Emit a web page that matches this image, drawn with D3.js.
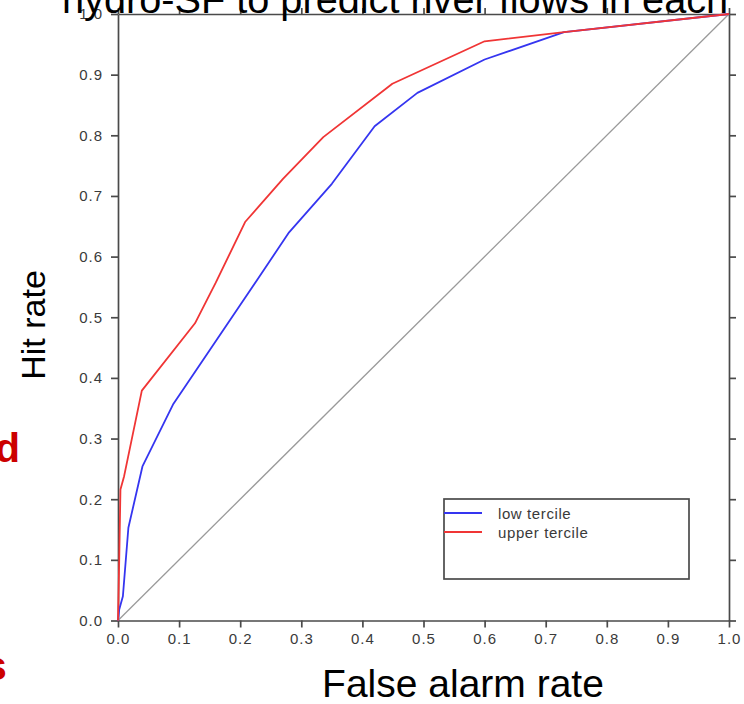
<!DOCTYPE html>
<html>
<head>
<meta charset="utf-8">
<script src="https://cdn.jsdelivr.net/npm/d3@7"></script>
<style>
  body { margin: 0; background: #fff; }
  svg { display: block; font-family: "Liberation Sans", Arial, sans-serif; }
  .axis text { font-size: 15px; fill: #3a3a3a; letter-spacing: 1px; }
  .axis line, .axis path { stroke: #4a4a4a; stroke-width: 1.7; }
</style>
</head>
<body>
<svg id="roc"></svg>
<script>
// valeurs (taux de fausses alarmes / taux de succes)
const lowFar = [0, 0.002, 0.008, 0.017, 0.04, 0.09, 0.2, 0.28, 0.35, 0.42, 0.49, 0.6, 0.73, 1.0];
const lowHit = [0, 0.018, 0.04, 0.153, 0.254, 0.356, 0.52, 0.64, 0.72, 0.815, 0.87, 0.925, 0.97, 1.0];
const upperFar = [0, 0.002, 0.004, 0.01, 0.039, 0.126, 0.16, 0.208, 0.27, 0.336, 0.449, 0.6, 0.73, 1.0];
const upperHit = [0, 0.1, 0.216, 0.238, 0.379, 0.49, 0.557, 0.657, 0.728, 0.797, 0.885, 0.955, 0.97, 1.0];
const diagonal = [0, 1];
const tickValues = [0, 0.1, 0.2, 0.3, 0.4, 0.5, 0.6, 0.7, 0.8, 0.9, 1.0];
const seriesNames = ['low tercile', 'upper tercile'];

class RocChart {

  constructor(container) {
    this.setSize();
    this.svg = d3.select(container)
      .attr('width', 744)
      .attr('height', 704);
    this.chart = this.svg.append('g')
      .attr('transform', 'translate(' + this.margin.left + ',' + this.margin.top + ')');

    const scale = this.scaleFunc();
    this.x = scale.x;
    this.y = scale.y;

    this.drawSideText();
    this.drawAxis();

    // diagonale "pas de skill"
    this.drawPath(diagonal.map(d => [d, d]), '#9a9a9a', 1.3);
    this.drawPath(d3.zip(lowFar, lowHit), '#3535f0', 1.8);
    this.drawPath(d3.zip(upperFar, upperHit), '#f03535', 1.8);

    this.drawLegend();
    this.drawTitles();
  }

  setSize() {
    this.margin = { top: 14, left: 118 };
    this.width = 611;
    this.height = 606.5;
  }

  scaleFunc() {
    const x = d3.scaleLinear().domain([0, 1]).range([0, this.width]);
    const y = d3.scaleLinear().domain([0, 1]).range([this.height, 0]);
    return { x, y };
  }

  drawAxis() {
    const fmt = d3.format('.1f');
    const chart = this.chart;

    chart.append('g')
      .attr('class', 'axis')
      .attr('transform', 'translate(0,' + this.height + ')')
      .call(d3.axisBottom(this.x).tickValues(tickValues).tickFormat(fmt)
        .tickSize(7).tickSizeOuter(0).tickPadding(6));

    chart.append('g')
      .attr('class', 'axis')
      .call(d3.axisLeft(this.y).tickValues(tickValues).tickFormat(fmt)
        .tickSize(7).tickSizeOuter(0).tickPadding(8));

    chart.append('g')
      .attr('class', 'axis')
      .call(d3.axisTop(this.x).tickValues(tickValues).tickFormat('')
        .tickSize(6).tickSizeOuter(0));

    chart.append('g')
      .attr('class', 'axis')
      .attr('transform', 'translate(' + this.width + ',0)')
      .call(d3.axisRight(this.y).tickValues(tickValues).tickFormat('')
        .tickSize(7).tickSizeOuter(0));
  }

  drawPath(points, color, width) {
    const line = d3.line()
      .x(d => this.x(d[0]))
      .y(d => this.y(d[1]));
    this.chart.append('path')
      .datum(points)
      .attr('d', line)
      .attr('fill', 'none')
      .attr('stroke', color)
      .attr('stroke-linejoin', 'round')
      .attr('stroke-width', width);
  }

  drawLegend() {
    const lg = this.svg.append('g').attr('transform', 'translate(444,499)');
    lg.append('rect')
      .attr('width', 245).attr('height', 80)
      .attr('fill', '#fff')
      .attr('stroke', '#4a4a4a').attr('stroke-width', 1.7);
    const colors = ['#3535f0', '#f03535'];
    seriesNames.forEach((name, i) => {
      lg.append('line')
        .attr('x1', 0).attr('x2', 38)
        .attr('y1', 14 + i * 19).attr('y2', 14 + i * 19)
        .attr('stroke', colors[i]).attr('stroke-width', 1.8);
      lg.append('text')
        .attr('x', 54).attr('y', 20 + i * 19)
        .attr('font-size', 15).attr('fill', '#3a3a3a')
        .attr('letter-spacing', 0.6)
        .text(name);
    });
  }

  drawTitles() {
    // titre de la diapo, coupe en haut
    this.svg.append('text')
      .attr('x', 62).attr('y', 13)
      .attr('font-size', 39.7).attr('fill', '#000')
      .text('hydro-SF to predict river flows in each');

    this.svg.append('text')
      .attr('x', 463).attr('y', 697)
      .attr('text-anchor', 'middle')
      .attr('font-size', 39).attr('fill', '#000')
      .text('False alarm rate');

    this.svg.append('text')
      .attr('transform', 'translate(45,325) rotate(-90)')
      .attr('text-anchor', 'middle')
      .attr('font-size', 34).attr('fill', '#000')
      .text('Hit rate');
  }

  drawSideText() {
    // morceaux de texte rouge de la diapo voisine
    this.svg.append('text')
      .attr('x', -5).attr('y', 462)
      .attr('font-size', 41).attr('font-weight', 'bold').attr('fill', '#cc0000')
      .text('d');
    this.svg.append('text')
      .attr('x', -16).attr('y', 680)
      .attr('font-size', 41).attr('font-weight', 'bold').attr('fill', '#cc0000')
      .text('s');
  }
}

new RocChart('#roc');
</script>
</body>
</html>
